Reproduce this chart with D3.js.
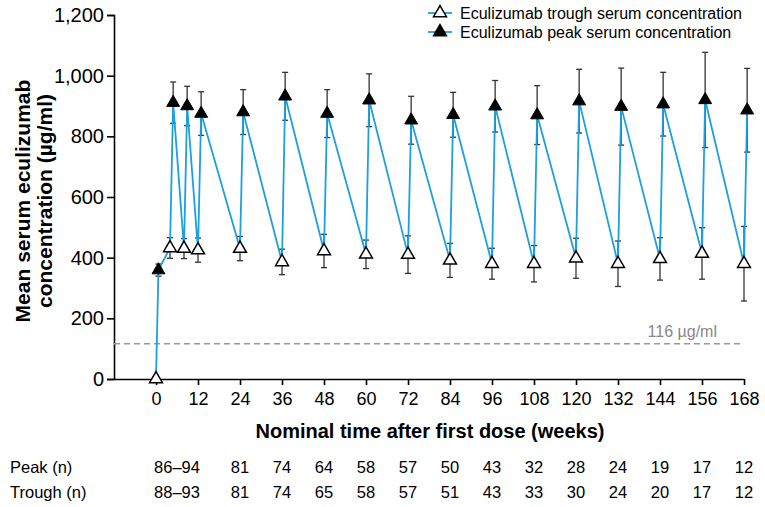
<!DOCTYPE html>
<html>
<head>
<meta charset="utf-8">
<script src="https://cdn.jsdelivr.net/npm/d3@7"></script>
<style>
  body { margin: 0; background: #fff; }
  svg { font-family: "Liberation Sans", Arial, sans-serif; }
</style>
</head>
<body>
<div id="main_svg"></div>
<script>
// data
var troughWeeks = [0, 4, 8, 12, 24, 36, 48, 60, 72, 84, 96, 108, 120, 132, 144, 156, 168];
var troughMean = [0, 432, 430, 425, 430, 386, 422, 411, 410, 391, 380, 380, 398, 380, 396, 414, 380];
var troughSd = [0, 34, 33, 40, 40, 42, 55, 47, 62, 56, 51, 60, 66, 75, 70, 85, 123];

var peakWeeks = [0.7, 4.9, 8.9, 12.9, 24.9, 36.9, 48.9, 60.9, 72.9, 84.9, 96.9, 108.9, 120.9, 132.9, 144.9, 156.9, 168.9];
var peakMean = [359, 911, 900, 875, 880, 932, 875, 919, 853, 871, 899, 870, 916, 898, 906, 920, 886];
var peakSd = [20, 68, 65, 72, 74, 79, 79, 87, 79, 74, 85, 97, 105, 127, 105, 157, 138];

var xTicks = [0, 12, 24, 36, 48, 60, 72, 84, 96, 108, 120, 132, 144, 156, 168];
var yTicks = [0, 200, 400, 600, 800, 1000, 1200];
var threshold = 116;

var tableWeeks = [6, 24, 36, 48, 60, 72, 84, 96, 108, 120, 132, 144, 156, 168];
var peakN = ["86–94", "81", "74", "64", "58", "57", "50", "43", "32", "28", "24", "19", "17", "12"];
var troughN = ["88–93", "81", "74", "65", "58", "57", "51", "43", "33", "30", "24", "20", "17", "12"];

var width = 765, height = 507;
var lineColor = "#1ca0e0";

var svg = d3.select("#main_svg").append("svg")
    .attr("width", width)
    .attr("height", height);

// scales
var x = d3.scaleLinear().domain([-12, 168]).range([114, 744]);
var y = d3.scaleLinear().domain([0, 1200]).range([379, 15]);

// y axis
var yAxis = svg.append("g")
    .attr("transform", "translate(" + x(-12) + ",0)")
    .call(d3.axisLeft(y).tickValues(yTicks).tickSize(7).tickPadding(3)
        .tickFormat(d3.format(",")));
yAxis.selectAll("text").attr("font-size", 20).attr("fill", "#000")
    .attr("font-family", "Liberation Sans, Arial, sans-serif");
yAxis.selectAll("line, path").attr("stroke", "#000").attr("stroke-width", 1.6);

// x axis
var xAxis = svg.append("g")
    .attr("transform", "translate(0," + y(0) + ")")
    .call(d3.axisBottom(x).tickValues(xTicks).tickSize(6).tickPadding(7).tickSizeOuter(0));
xAxis.selectAll("text").attr("font-size", 18).attr("fill", "#000")
    .attr("font-family", "Liberation Sans, Arial, sans-serif");
xAxis.selectAll("line, path").attr("stroke", "#000").attr("stroke-width", 1.6);

// axis titles
var yTitle = svg.append("text")
    .attr("transform", "translate(30," + 201 + ") rotate(-90)")
    .attr("text-anchor", "middle")
    .attr("font-size", 21)
    .attr("font-weight", "bold");
yTitle.append("tspan").attr("x", 0).attr("dy", 0).text("Mean serum eculizumab");
yTitle.append("tspan").attr("x", 0).attr("dy", 22).text("concentration (µg/ml)");

svg.append("text")
    .attr("x", 430)
    .attr("y", 438)
    .attr("text-anchor", "middle")
    .attr("font-size", 20)
    .attr("font-weight", "bold")
    .text("Nominal time after first dose (weeks)");

// threshold line
svg.append("line")
    .attr("x1", x(-12)).attr("x2", x(168))
    .attr("y1", y(threshold)).attr("y2", y(threshold))
    .attr("stroke", "#999")
    .attr("stroke-width", 1.4)
    .attr("stroke-dasharray", "6,4");

svg.append("text")
    .attr("x", 717)
    .attr("y", y(threshold) - 7)
    .attr("text-anchor", "end")
    .attr("font-size", 16)
    .attr("fill", "#888")
    .text(threshold + " µg/ml");

// build points
var trough = troughWeeks.map(function (w, i) {
    return {week: w, mean: troughMean[i], sd: troughSd[i], type: "trough"};
});
var peak = peakWeeks.map(function (w, i) {
    return {week: w, mean: peakMean[i], sd: peakSd[i], type: "peak"};
});
var path = [];
for (var i = 0; i < trough.length; i++) {
    path.push(trough[i]);
    path.push(peak[i]);
}

// error bars
var all = trough.concat(peak);
var eb = svg.append("g").selectAll(".eb")
    .data(all.filter(function (d) { return d.sd > 0; }))
    .enter().append("g");
eb.append("line")
    .attr("x1", function (d) { return x(d.week); })
    .attr("x2", function (d) { return x(d.week); })
    .attr("y1", function (d) { return y(d.mean - d.sd); })
    .attr("y2", function (d) { return y(d.mean + d.sd); })
    .attr("stroke", "#333").attr("stroke-width", 1.3);
eb.append("line")
    .attr("x1", function (d) { return x(d.week) - 3; })
    .attr("x2", function (d) { return x(d.week) + 3; })
    .attr("y1", function (d) { return y(d.mean + d.sd); })
    .attr("y2", function (d) { return y(d.mean + d.sd); })
    .attr("stroke", "#333").attr("stroke-width", 1.3);
eb.append("line")
    .attr("x1", function (d) { return x(d.week) - 3; })
    .attr("x2", function (d) { return x(d.week) + 3; })
    .attr("y1", function (d) { return y(d.mean - d.sd); })
    .attr("y2", function (d) { return y(d.mean - d.sd); })
    .attr("stroke", "#333").attr("stroke-width", 1.3);

// the saw-tooth line
svg.append("path")
    .datum(path)
    .attr("fill", "none")
    .attr("stroke", lineColor)
    .attr("stroke-width", 1.8)
    .attr("d", d3.line()
        .x(function (d) { return x(d.week); })
        .y(function (d) { return y(d.mean); }));

// markers
var tri = d3.symbol().type(d3.symbolTriangle).size(72);
svg.append("g").selectAll(".tr")
    .data(trough)
    .enter().append("path")
    .attr("d", tri)
    .attr("transform", function (d) { return "translate(" + x(d.week) + "," + y(d.mean) + ")"; })
    .attr("fill", "#fff")
    .attr("stroke", "#000")
    .attr("stroke-width", 1.5);
svg.append("g").selectAll(".pk")
    .data(peak)
    .enter().append("path")
    .attr("d", tri)
    .attr("transform", function (d) { return "translate(" + x(d.week) + "," + y(d.mean) + ")"; })
    .attr("fill", "#000")
    .attr("stroke", "#000")
    .attr("stroke-width", 1);

// legend
var legend = [
    {label: "Eculizumab trough serum concentration", fill: "#fff", y: 13},
    {label: "Eculizumab peak serum concentration", fill: "#000", y: 32}
];
var lg = svg.append("g").selectAll(".lg")
    .data(legend)
    .enter().append("g")
    .attr("transform", function (d) { return "translate(440," + d.y + ")"; });
lg.append("line")
    .attr("x1", -12).attr("x2", 12)
    .attr("stroke", lineColor).attr("stroke-width", 1.8);
lg.append("path")
    .attr("d", tri)
    .attr("fill", function (d) { return d.fill; })
    .attr("stroke", "#000")
    .attr("stroke-width", 1.5);
lg.append("text")
    .attr("x", 20)
    .attr("dy", "0.35em")
    .attr("font-size", 16)
    .text(function (d) { return d.label; });

// table of n
var tableFont = 16.5;
svg.append("text").attr("x", 10).attr("y", 473).attr("font-size", tableFont).text("Peak (n)");
svg.append("text").attr("x", 10).attr("y", 498).attr("font-size", tableFont).text("Trough (n)");
svg.append("g").selectAll(".pn")
    .data(peakN)
    .enter().append("text")
    .attr("x", function (d, i) { return x(tableWeeks[i]); })
    .attr("y", 473)
    .attr("text-anchor", "middle")
    .attr("font-size", tableFont)
    .text(function (d) { return d; });
svg.append("g").selectAll(".tn")
    .data(troughN)
    .enter().append("text")
    .attr("x", function (d, i) { return x(tableWeeks[i]); })
    .attr("y", 498)
    .attr("text-anchor", "middle")
    .attr("font-size", tableFont)
    .text(function (d) { return d; });
</script>
</body>
</html>
